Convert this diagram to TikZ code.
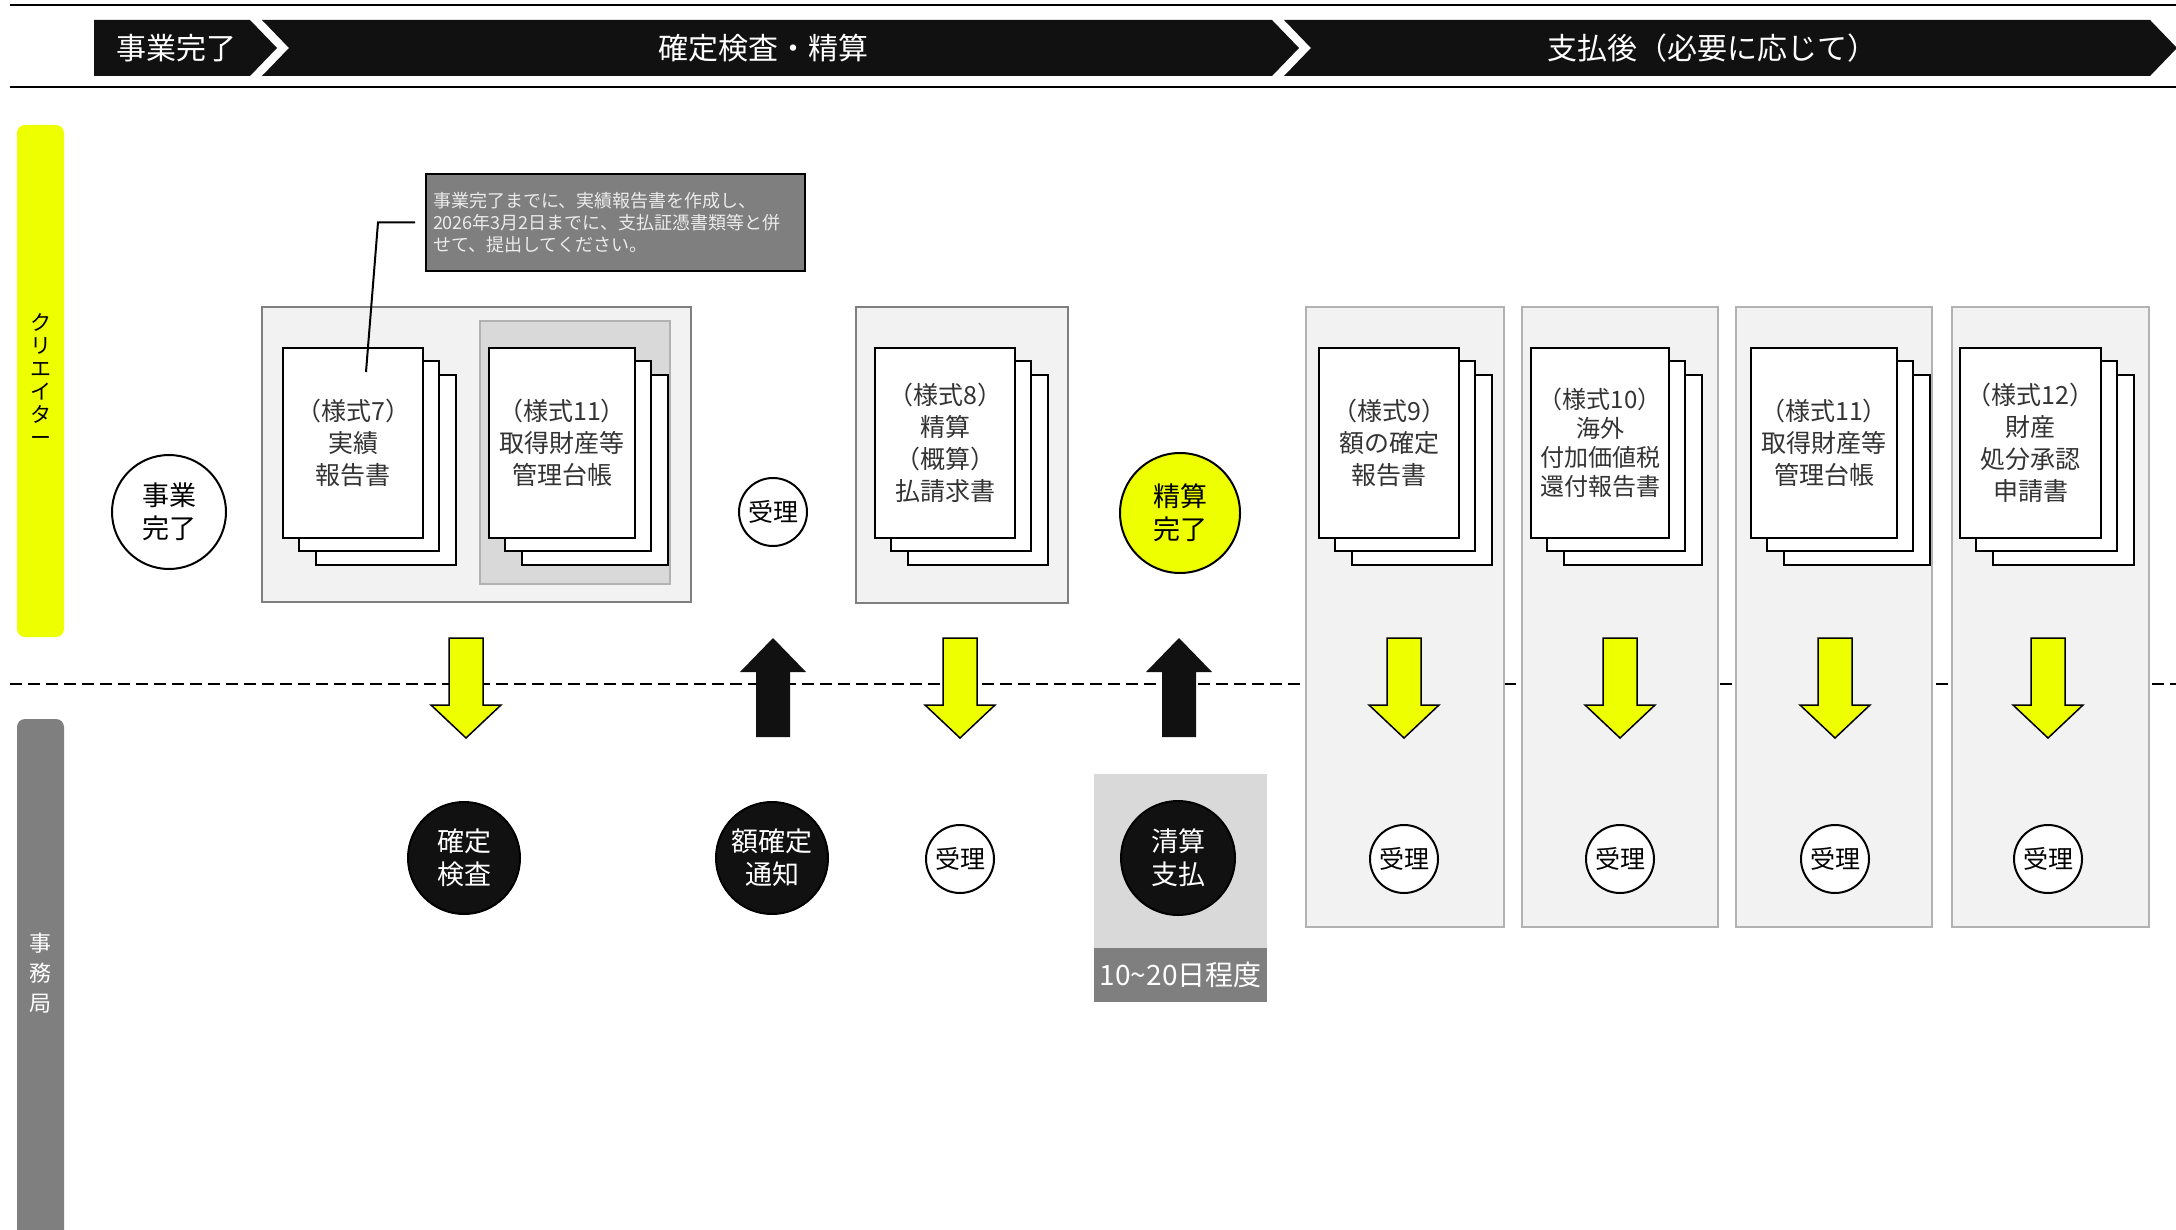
\documentclass[tikz,border=0pt]{standalone}
\usepackage{fontspec}
\setmainfont{Noto Sans CJK JP}
\usetikzlibrary{positioning}

\definecolor{hdrblack}{RGB}{17,17,17}
\definecolor{laneyellow}{RGB}{238,255,0}
\definecolor{panelfill}{RGB}{242,242,242}
\definecolor{innerfill}{RGB}{217,217,217}
\definecolor{midgray}{RGB}{127,127,127}
\definecolor{lightborder}{RGB}{178,178,178}
\definecolor{doctext}{RGB}{51,51,51}
\definecolor{notetext}{RGB}{235,235,235}

% stack of three sheets: [font] name, x, y, width, text
\newcommand{\docstack}[6][]{%
  \draw[pageback] ({#3+34},{#4+28}) rectangle ++(#5,190);
  \draw[pageback] ({#3+17},{#4+14}) rectangle ++(#5,190);
  \node[docpage, #1, minimum width=#5pt, anchor=north west] (#2) at (#3,#4) {#6};
}
\newcommand{\yellowdown}[1]{%
  \draw[yellowarrow] ({#1-17},638) -- ({#1+17},638) -- ({#1+17},705) -- ({#1+35},705)
    -- (#1,738) -- ({#1-35},705) -- ({#1-17},705) -- cycle;
}
\newcommand{\blackup}[1]{%
  \fill[hdrblack] ({#1-17},737) -- ({#1+17},737) -- ({#1+17},672) -- ({#1+33},672)
    -- (#1,638) -- ({#1-33},672) -- ({#1-17},672) -- cycle;
}

\begin{document}
\begin{tikzpicture}[x=1pt, y=-1pt,
  hdrtext/.style={text=white, font=\fontsize{30}{32}\selectfont},
  rule/.style={line width=2.5pt},
  lanetext/.style={align=center, inner sep=0pt, font=\fontsize{21}{23}\selectfont},
  dashline/.style={line width=2pt, dash pattern=on 12pt off 6pt},
  groupbox/.style={fill=panelfill, draw=midgray, line width=2.5pt},
  innerbox/.style={fill=innerfill, draw=lightborder, line width=2.5pt},
  panel/.style={fill=panelfill, draw=lightborder, line width=2.5pt},
  pageback/.style={fill=white, draw=black, line width=2.2pt},
  docpage/.style={fill=white, draw=black, line width=2.2pt, minimum height=190pt,
    inner sep=0pt, align=center, text=doctext, font=\fontsize{25}{32}\selectfont},
  circ/.style={circle, draw=black, line width=2pt, fill=white, align=center,
    inner sep=0pt, font=\fontsize{27}{33}\selectfont},
  darkcirc/.style={circ, fill=hdrblack, text=white},
  smallcirc/.style={circ, minimum size=68pt, font=\fontsize{25}{28}\selectfont},
  yellowarrow/.style={fill=laneyellow, draw=black, line width=1.5pt, line join=miter},
  notebox/.style={fill=midgray, draw=black, line width=2pt, text=notetext, align=left,
    inner sep=7pt, font=\fontsize{18}{22}\selectfont}]
\useasboundingbox (0,0) rectangle (2176,1230);

% phase header
\draw[rule] (10,5) -- (2176,5);
\draw[rule] (10,87) -- (2176,87);
\fill[hdrblack] (94,20) -- (250,20) -- (277,48) -- (250,76) -- (94,76) -- cycle;
\fill[hdrblack] (262,20) -- (1272,20) -- (1299,48) -- (1272,76) -- (262,76) -- (289,48) -- cycle;
\fill[hdrblack] (1284,20) -- (2150,20) -- (2177,48) -- (2150,76) -- (1284,76) -- (1311,48) -- cycle;
\node[hdrtext] (phaseA) at (176,48) {事業完了};
\node[hdrtext] (phaseB) at (763,48) {確定検査・精算};
\node[hdrtext] (phaseC) at (1712,48) {支払後（必要に応じて）};

% lanes
\fill[laneyellow, rounded corners=8pt] (17,125) rectangle (64,637);
\node[lanetext] (creator) at (40.5,380) {ク\\リ\\エ\\イ\\タ\\ー};
\fill[midgray, rounded corners=8pt] (17,719) rectangle (64,1260);
\node[lanetext, text=white, font=\fontsize{22}{30}\selectfont] (office) at (40.5,973) {事\\務\\局};
\draw[dashline] (10,684) -- (2176,684);

% boxes
\draw[groupbox] (262,307) rectangle (691,602);
\draw[innerbox] (480,321) rectangle (670,584);
\draw[groupbox] (856,307) rectangle (1068,603);
\foreach \xa/\xb in {1306/1504, 1522/1718, 1736/1932, 1952/2149}
  \draw[panel] (\xa,307) rectangle (\xb,927);

% forms
\docstack{form7}{282}{347}{140}{（様式7）\\実績\\報告書}
\docstack{form11a}{488}{347}{146}{（様式11）\\取得財産等\\管理台帳}
\docstack{form8}{874}{347}{140}{（様式8）\\精算\\（概算）\\払請求書}
\docstack{form9}{1318}{347}{140}{（様式9）\\額の確定\\報告書}
\docstack[font=\fontsize{24}{29}\selectfont]{form10}{1530}{347}{138}{（様式10）\\海外\\付加価値税\\還付報告書}
\docstack{form11b}{1750}{347}{146}{（様式11）\\取得財産等\\管理台帳}
\docstack{form12}{1959}{347}{141}{（様式12）\\財産\\処分承認\\申請書}

% creator side
\node[circ, minimum size=114pt] (bizdone) at (169,512) {事業\\完了};
\node[smallcirc] (recvA) at (773,512) {受理};
\node[circ, fill=laneyellow, minimum size=120pt] (settled) at (1180,513) {精算\\完了};

% office side
\fill[innerfill] (1094,774) rectangle (1267,948);
\node[fill=midgray, text=white, minimum width=173pt, minimum height=54pt, inner sep=0pt,
  anchor=north west, font=\fontsize{28}{30}\selectfont] (days) at (1094,948) {10\textasciitilde 20日程度};
\node[darkcirc, minimum size=112pt] (inspect) at (464,858) {確定\\検査};
\node[darkcirc, minimum size=112pt] (notice) at (772,858) {額確定\\通知};
\node[smallcirc] (recvB) at (960,859) {受理};
\node[darkcirc, minimum size=114pt] (payout) at (1178,858) {清算\\支払};

% arrows
\yellowdown{466}
\blackup{773}
\yellowdown{960}
\blackup{1179}
\foreach \cx/\nm in {1404/recvC, 1620/recvD, 1835/recvE, 2048/recvF} {
  \yellowdown{\cx}
  \node[smallcirc] (\nm) at (\cx,859) {受理};
}

% note
\node[notebox, anchor=north west, minimum width=379pt, minimum height=97pt, text width=365pt] (note) at (425,173)
  {事業完了までに、実績報告書を作成し、\\2026年3月2日までに、支払証憑書類等と併\\せて、提出してください。};
\coordinate (leadtip) at (366,372);
\draw[line width=2pt] ([xshift=-10pt]note.west) -- ++(-37,0) -- (leadtip);
\end{tikzpicture}
\end{document}
